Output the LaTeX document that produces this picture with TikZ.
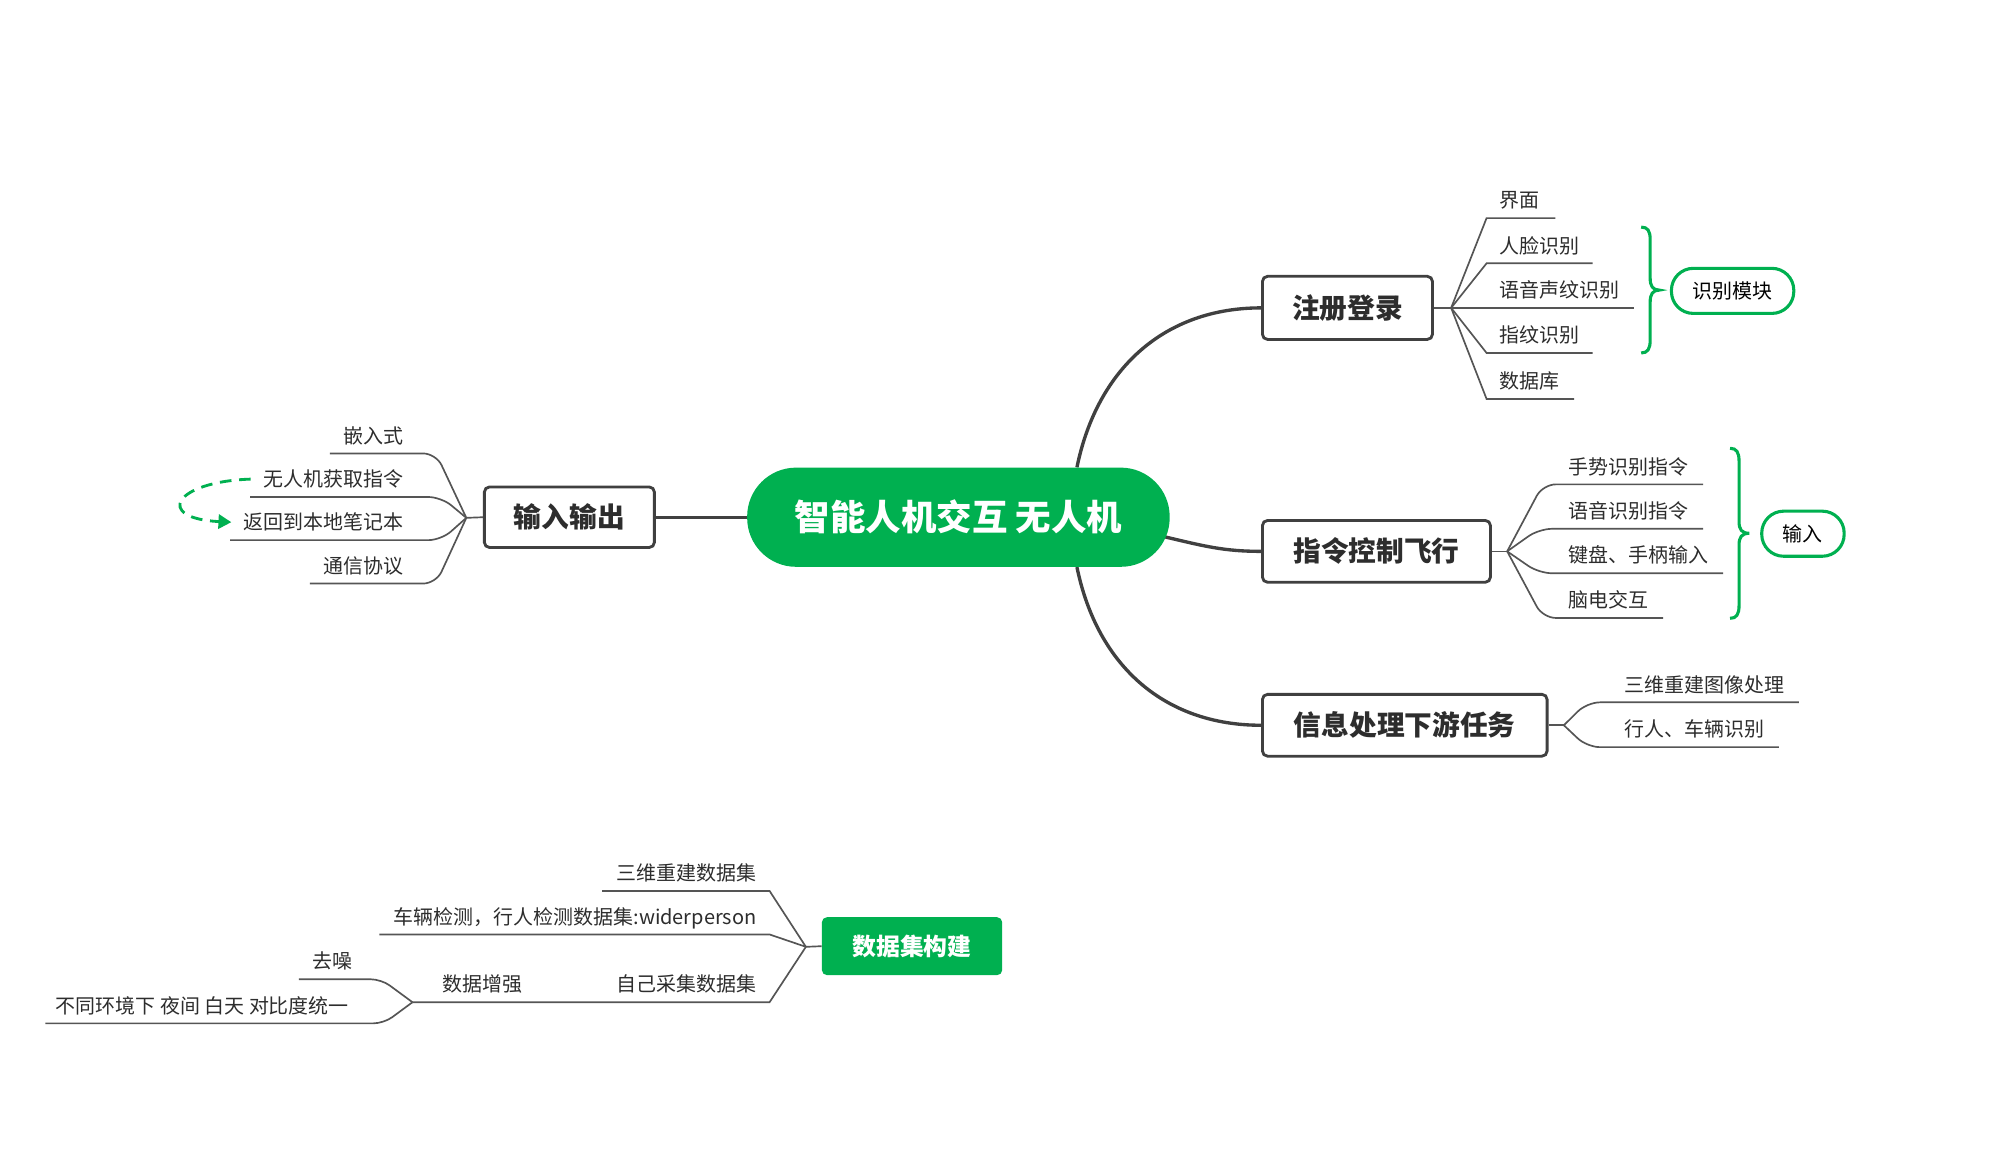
\documentclass[tikz,border=0pt]{standalone}
\usepackage{fontspec}
\setmainfont{Noto Sans CJK SC}
\usetikzlibrary{arrows.meta,backgrounds}
\definecolor{mgreen}{RGB}{0,176,80}
\definecolor{dk}{RGB}{64,64,64}
\definecolor{tx}{RGB}{45,45,45}
\definecolor{ln}{RGB}{85,85,85}
\begin{document}
\begin{tikzpicture}[x=1pt,y=-1pt,
  leaf/.style={inner sep=0pt, text=tx, font=\fontsize{15.5}{18}\selectfont},
  leafline/.style={draw=ln, line width=1.3pt},
  mainline/.style={draw=dk, line width=2.6pt},
  topic/.style={draw=dk, line width=2.2pt, fill=white, rounded corners=4pt, text=tx,
    font=\fontsize{21.5}{24}\selectfont\bfseries, inner sep=0pt},
  bubble/.style={draw=mgreen, line width=2.4pt, fill=white, rounded corners=17pt, text=black,
    font=\fontsize{15.5}{18}\selectfont, inner sep=0pt, minimum height=35pt},
  bracestyle/.style={draw=mgreen, line width=2.4pt},
  greenarrow/.style={draw=mgreen, line width=2.2pt, dash pattern=on 9pt off 6pt,
    -{Triangle[length=10pt,width=11pt]}},
]
\useasboundingbox (0,0) rectangle (1565,898);

% central and main topics
\node[fill=mgreen, rounded corners=38pt, minimum width=328pt, minimum height=77pt, inner sep=0pt,
  text=white, font=\fontsize{27.5}{30}\selectfont\bfseries] (cen) at (744,401.5) {智能人机交互 无人机};
\node[topic, minimum width=132pt, minimum height=49pt] (reg) at (1046,239) {注册登录};
\node[topic, minimum width=177pt, minimum height=48pt] (cmd) at (1068.5,428) {指令控制飞行};
\node[topic, minimum width=221pt, minimum height=48pt] (info) at (1090.5,563) {信息处理下游任务};
\node[topic, minimum width=132pt, minimum height=47pt] (io) at (442,401.5) {输入输出};
\node[fill=mgreen, rounded corners=4pt, minimum width=140pt, minimum height=45pt, inner sep=0pt,
  text=white, font=\fontsize{18.5}{21}\selectfont\bfseries] (ds) at (708,734.5) {数据集构建};

% forks
\coordinate (f1) at (1126.5,239);
\coordinate (f2) at (1170,428);
\coordinate (f3) at (1214,563);
\coordinate (f4) at (362,402);
\coordinate (f5) at (625.6,735);

% leaves of 注册登录
\node[leaf,anchor=base west] (a1) at (1164,161.3) {界面};
\node[leaf,anchor=base west] (a2) at (1164,196.4) {人脸识别};
\node[leaf,anchor=base west] (a3) at (1164,231) {语音声纹识别};
\node[leaf,anchor=base west] (a4) at (1164,266) {指纹识别};
\node[leaf,anchor=base west] (a5) at (1164,301.7) {数据库};

% leaves of 指令控制飞行
\node[leaf,anchor=base west] (b1) at (1217.7,368) {手势识别指令};
\node[leaf,anchor=base west] (b2) at (1217.7,402.5) {语音识别指令};
\node[leaf,anchor=base west] (b3) at (1217.7,437) {键盘、手柄输入};
\node[leaf,anchor=base west] (b4) at (1217.7,471.7) {脑电交互};

% leaves of 信息处理下游任务
\node[leaf,anchor=base west] (c1) at (1261,537.2) {三维重建图像处理};
\node[leaf,anchor=base west] (c2) at (1261,572) {行人、车辆识别};

% leaves of 输入输出
\node[leaf,anchor=base east] (d1) at (313.5,344) {嵌入式};
\node[leaf,anchor=base east] (d2) at (313.5,377.8) {无人机获取指令};
\node[leaf,anchor=base east] (d3) at (313.5,411.3) {返回到本地笔记本};
\node[leaf,anchor=base east] (d4) at (313.5,445) {通信协议};

% leaves of 数据集构建
\node[leaf,anchor=base east] (e1) at (587.4,683.6) {三维重建数据集};
\node[leaf,anchor=base east] (e2) at (587.4,717.4) {车辆检测，行人检测数据集:widerperson};
\node[leaf,anchor=base east] (e3) at (587.4,770) {自己采集数据集};
\node[leaf,anchor=base east] (e4) at (406,770) {数据增强};
\node[leaf,anchor=base east] (e5) at (273.5,752.2) {去噪};
\node[leaf,anchor=base east] (e6) at (271,786.4) {不同环境下 夜间 白天 对比度统一};
\coordinate (sf) at ([shift={(-23.4,8)}]e4.base west);

% summary bubbles
\node[bubble, minimum width=95pt] (sum1) at (1345,225.8) {识别模块};
\node[bubble, minimum width=64pt] (sum2) at (1399.6,414.3) {输入};

\begin{scope}[on background layer]
\fill[white] (0,0) rectangle (1565,898);
\draw[mainline] ([xshift=92pt]cen.north) .. controls (852,285) and (905,239) .. (reg.west);
\draw[mainline] ([shift={(-5,15)}]cen.east) .. controls (935,424) and (950,428) .. (cmd.west);
\draw[mainline] ([xshift=92pt]cen.south) .. controls (852,518) and (905,563) .. (info.west);
\draw[mainline] (cen.west) -- (io.east);
\end{scope}

% stubs
\draw[leafline] (reg.east) -- (f1);
\draw[leafline] (cmd.east) -- (f2);
\draw[leafline] (info.east) -- (f3);
\draw[leafline] (io.west) -- (f4);
\draw[leafline] (ds.west) -- (f5);

% 注册登录 branches (straight)
\foreach \n/\r in {a1/12,a2/10,a3/11,a4/10,a5/11}{
  \draw[leafline] (f1) -- ([shift={(-10,8)}]\n.base west) -- ([shift={(\r,8)}]\n.base east);
}
% 指令控制飞行 branches (rounded)
\foreach \n/\c in {b1/-20,b2/-23,b3/-23,b4/-20}{
  \draw[leafline, rounded corners=10pt] (f2) -- ([shift={(\c,8)}]\n.base west) -- ([shift={(11,8)}]\n.base east);
}
% 信息处理下游任务 branches
\foreach \n in {c1,c2}{
  \draw[leafline, rounded corners=10pt] (f3) -- ([shift={(-29,8)}]\n.base west) -- ([shift={(11,8)}]\n.base east);
}
% 输入输出 branches
\foreach \n/\c in {d1/25,d2/29,d3/29,d4/25}{
  \draw[leafline, rounded corners=10pt] (f4) -- ([shift={(\c,8)}]\n.base east) -- ([shift={(-10.5,8)}]\n.base west);
}
% 数据集构建 branches
\draw[leafline] (f5) -- ([shift={(10,8)}]e1.base east) -- ([shift={(-11,8)}]e1.base west);
\draw[leafline] (f5) -- ([shift={(10,8)}]e2.base east) -- ([shift={(-11,8)}]e2.base west);
\draw[leafline] (f5) -- ([shift={(10,8)}]e3.base east) -- (sf);
\draw[leafline, rounded corners=8pt] (sf) -- ([shift={(22.5,8)}]e5.base east) -- ([shift={(-10,8)}]e5.base west);
\draw[leafline, rounded corners=8pt] (sf) -- ([shift={(27,8)}]e6.base east) -- ([shift={(-8,8)}]e6.base west);

% braces
\draw[bracestyle] (1274,176.3) .. controls (1279,176.3) and (1281,179) .. (1281,186) -- (1281,216)
  .. controls (1281,222) and (1283,225.2) .. (1288,225.2) .. controls (1283,225.2) and (1281,228.4) .. (1281,234.4)
  -- (1281,264) .. controls (1281,271) and (1279,274) .. (1274,274);
\draw[bracestyle] (1343,348) .. controls (1348,348) and (1350,351) .. (1350,358) -- (1350,405)
  .. controls (1350,411) and (1352,414) .. (1358,414) .. controls (1352,414) and (1350,417) .. (1350,423)
  -- (1350,470) .. controls (1350,477) and (1348,480) .. (1343,480);

% dashed relationship arrow
\draw[greenarrow] ([xshift=-10pt]d2.west) .. controls +(-60,2) and +(-60,-3) .. ([xshift=-9.5pt]d3.west);
\end{tikzpicture}
\end{document}
